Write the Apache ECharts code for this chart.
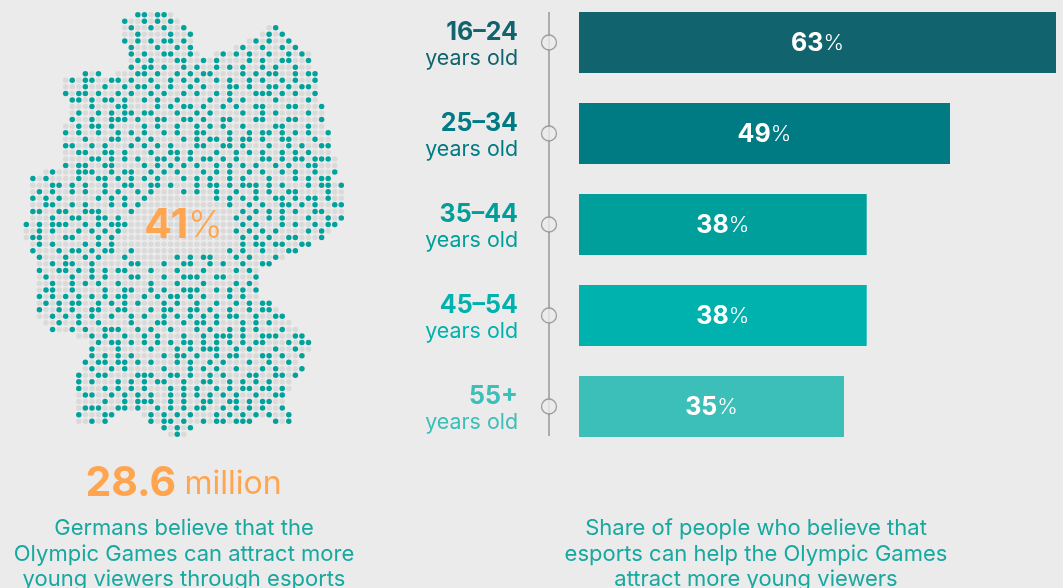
<!DOCTYPE html>
<html>
<head>
<meta charset="utf-8">
<style>html,body{margin:0;padding:0;background:#ebebeb}#chart{width:1063px;height:588px}</style>
<script src="https://cdn.jsdelivr.net/npm/echarts@6/dist/echarts.min.js"></script>
</head>
<body>
<div id="chart"></div>
<script>
const ageGroups = ['16–24','25–34','35–44','45–54','55+'];
const ageSuffix = 'years old';
const shares = [63,49,38,38,35];
const barColors = ['#11646e','#007b84','#009f9c','#00b2ae','#3cbeb9'];
const mapRowSpans = [
[[17,22]],[[15,23]],[[15,24],[37,38]],[[15,25],[36,39]],[[15,25],[34,40]],[[16,25],[32,41]],[[16,26],[29,43]],[[16,43]],[[16,43]],
[[9,11],[14,44]],[[6,44]],[[6,44]],[[6,44]],[[7,44]],[[7,45]],[[7,45]],[[7,45]],[[6,45]],[[6,46]],[[6,46]],[[6,46]],[[6,46]],
[[6,47]],[[6,47]],[[3,47]],[[1,46]],[[1,48]],[[1,48]],[[1,48]],[[1,48]],[[1,48]],[[1,48]],[[0,47]],[[0,46]],[[0,45]],[[1,43]],[[1,41]],
[[2,39]],[[2,37]],[[2,35]],[[2,35]],[[2,35]],[[2,35]],[[2,35]],[[2,37]],[[2,38]],[[2,39]],[[3,40]],[[4,41]],[[8,42]],[[10,43]],[[10,43]],
[[10,42]],[[9,41]],[[9,42]],[[8,41]],[[8,40]],[[8,40]],[[8,39]],[[8,39]],[[8,39]],[[8,13],[18,40]],[[8,12],[19,34],[38,40]],[[21,25]],[[22,24]]
];
const mapTealCols = [
[17,18,20,21],
[15,18,20,22],
[16,19,21,24,38],
[17,22,25,37,39],
[15,17,19,21,22,24,35,37,40],
[16,20,23,25,33,36,39,41],
[16,18,21,22,25,30,32,34,37,40,42],
[17,19,23,24,27,29,34,36,39,40,43],
[16,18,19,21,24,26,29,31,33,36,38,41],
[9,11,17,18,20,23,25,27,28,33,35,37,38,41,43,44],
[7,9,10,13,14,16,19,22,24,26,29,31,34,36,39,41,44],
[9,12,15,17,18,20,22,25,27,31,32,34,37,38,40,42,43],
[6,8,9,11,14,16,19,21,24,26,29,31,35,36,37,39,41,44],
[7,8,10,12,13,15,18,20,23,28,31,33,38,43],
[10,14,15,20,22,24,25,27,30,32,35,36,40,41,45],
[8,11,13,15,16,18,19,23,26,28,33,36,38,43],
[7,10,13,14,15,17,20,21,24,25,27,30,31,35,36,40,41,45],
[8,10,11,13,18,20,23,26,28,30,33,38,39,43],
[6,8,11,14,16,18,21,23,26,27,31,34,36,37,39,41,43,46],
[9,13,14,17,19,24,26,28,29,31,33,34,36,39,40,44],
[6,7,10,12,16,18,20,22,26,27,30,31,33,37,40,42,45,46],
[8,9,12,13,15,19,22,23,25,29,32,34,36,39,41,43],
[10,11,13,15,17,20,21,23,25,27,28,30,32,36,37,39,41,42,44,45,46],
[6,8,9,12,13,18,20,22,24,26,29,31,33,35,38,40,43,44],
[4,8,9,10,13,15,16,19,21,23,27,29,31,34,36,39,41,44,47],
[1,3,8,11,12,14,16,18,20,24,26,28,31,33,37,41,43,45,46],
[4,5,7,9,12,15,16,19,20,22,26,28,29,31,33,34,35,37,39,43,45,46,48],
[2,4,7,9,12,14,17,19,24,26,29,32,35,37,40,41,46],
[1,3,5,11,13,15,18,29,31,33,35,38,39,41,43,44,46],
[3,4,7,9,13,15,17,31,34,36,39,40,42,44,47,48],
[1,2,5,6,9,10,11,16,33,35,37,39,41,44,45],
[4,7,8,11,12,14,32,34,37,39,43,46,48],
[0,2,4,5,6,9,11,13,14,15,33,35,39,41,44,46,47],
[2,4,8,10,12,14,32,34,36,38,43,45],
[1,2,6,7,11,13,33,35,37,40,41,45],
[2,4,9,11,13,33,35,36,38,39,42,43],
[1,5,7,8,10,12,13,16,31,33,36,40,41],
[2,6,9,11,15,23,25,27,28,32,34,38],
[4,6,7,10,16,17,21,24,25,28,30,33,36,37],
[2,5,6,8,10,12,14,15,19,23,27,32,34],
[3,7,10,12,16,17,21,24,25,26,29,30,35],
[4,7,9,11,14,19,23,27,32,34],
[3,4,7,12,15,16,19,21,24,25,26,29,31,33,35],
[2,4,6,8,10,12,14,15,18,20,22,23,25,27,31,33],
[3,5,7,8,11,13,15,17,21,23,26,29,32,34,36,37],
[2,5,7,10,11,14,15,19,21,22,25,26,28,31,34,36,37],
[4,6,8,10,13,16,18,21,23,25,27,29,31,32,35,38,39],
[5,8,11,16,20,21,24,26,27,29,33,35,37],
[4,7,9,12,13,14,17,19,22,26,28,31,33,35,39],
[10,12,15,18,20,24,27,29,30,31,33,36,37,38,41,42],
[11,13,14,16,18,20,22,24,25,27,29,31,33,35,36,40,42,43],
[10,14,19,23,25,27,28,29,32,34,38,41],
[10,12,14,16,21,23,24,26,29,31,32,36,37,39,42],
[9,11,12,14,15,17,19,23,25,28,30,34,37,40],
[10,13,15,21,25,27,29,32,36,38,42],
[8,11,12,17,18,19,22,23,25,28,30,34,35,38,39,41],
[8,10,14,16,18,20,21,24,27,28,31,33,35,37],
[8,12,14,16,18,22,24,26,29,31,33,34,36,37,39],
[9,10,13,15,17,19,22,24,26,28,30,32,35,38,39],
[12,15,17,18,19,22,24,27,28,31,32,34,36,37],
[9,10,11,14,15,17,20,22,24,26,27,30,32,34,36,39],
[8,12,13,19,21,23,25,29,31,33,35,37,40],
[10,12,19,21,22,24,27,29,30,32,33,34,38,40],
[21,23,25],
[23]
];
const mapShareBig = '41', pctSign = '%';
const millionsBig = '28.6', millionsUnit = 'million';
const leftCaption = ['Germans believe that the','Olympic Games can attract more','young viewers through esports'];
const rightCaption = ['Share of people who believe that','esports can help the Olympic Games','attract more young viewers'];

const FONT = 'Inter';
const tealDots = [], greyDots = [];
mapRowSpans.forEach((spans, r) => {
  const teal = new Set(mapTealCols[r]);
  spans.forEach(([a, b]) => {
    for (let c = a; c <= b; c++) (teal.has(c) ? tealDots : greyDots).push([c, r]);
  });
});
const rich = {};
barColors.forEach((col, i) => {
  rich['a' + i] = {fontFamily: FONT, fontSize: 25, fontWeight: 700, color: col, lineHeight: 26, align: 'right'};
  rich['b' + i] = {fontFamily: FONT, fontSize: 21.4, fontWeight: 400, color: col, lineHeight: 26, align: 'right'};
});
const capStyle = {fontFamily: FONT, fontSize: 22, fontWeight: 400, fill: '#17a8a0', textAlign: 'center', textVerticalAlign: 'middle'};
const capY = [528, 554, 579];
const texts = [];
leftCaption.forEach((t, i) => texts.push({type: 'text', x: 184, y: capY[i], z: 5, style: {...capStyle, text: t}}));
rightCaption.forEach((t, i) => texts.push({type: 'text', x: 756, y: capY[i], z: 5, style: {...capStyle, text: t}}));

const chart = echarts.init(document.getElementById('chart'), null, {renderer: 'canvas'});
chart.setOption({
  backgroundColor: '#ebebeb',
  animation: false,
  grid: [
    {left: 579, width: 477, top: -3, height: 455, outerBoundsMode: 'none'},
    {left: 549, width: 1, top: -3, height: 455, outerBoundsMode: 'none'},
    {left: 26.3, width: 315, top: 14.7, height: 419.6, outerBoundsMode: 'none'}
  ],
  xAxis: [
    {gridIndex: 0, type: 'value', min: 0, max: 63, show: false},
    {gridIndex: 1, type: 'value', min: 0, max: 1, show: false},
    {gridIndex: 2, type: 'value', min: 0, max: 48, show: false}
  ],
  yAxis: [
    {gridIndex: 0, type: 'category', inverse: true, data: ageGroups,
     axisLine: {show: false}, axisTick: {show: false},
     axisLabel: {margin: 61, align: 'right', rich, padding: [6, 0, 0, 0],
       formatter: (v, i) => `{a${i}|${v}}\n{b${i}|${ageSuffix}}`}},
    {gridIndex: 1, type: 'category', inverse: true, data: ageGroups, show: false},
    {gridIndex: 2, type: 'value', inverse: true, min: 0, max: 64, show: false}
  ],
  series: [
    {type: 'bar', xAxisIndex: 0, yAxisIndex: 0, barWidth: 61, silent: true,
     data: shares.map((v, i) => ({value: v, itemStyle: {color: barColors[i]}})),
     label: {show: true, position: 'inside', offset: [0, 1], formatter: p => `{n|${p.value}}{p|${pctSign}}`,
       rich: {n: {fontFamily: FONT, fontSize: 25, fontWeight: 700, color: '#fff'},
              p: {fontFamily: FONT, fontSize: 22, fontWeight: 300, color: '#fff'}}}},
    {type: 'scatter', xAxisIndex: 1, yAxisIndex: 1, silent: true, z: 4, symbolSize: 15,
     data: ageGroups.map(a => [0, a]),
     itemStyle: {color: '#ebebeb', borderColor: '#8b8b8b', borderWidth: 1.3}},
    {type: 'scatter', xAxisIndex: 2, yAxisIndex: 2, silent: true, clip: false, z: 1, symbolSize: 5.5,
     data: greyDots, itemStyle: {color: '#dadada', opacity: 1}},
    {type: 'scatter', xAxisIndex: 2, yAxisIndex: 2, silent: true, clip: false, z: 2, symbolSize: 5.5,
     data: tealDots, itemStyle: {color: '#00a29b', opacity: 1}}
  ],
  graphic: [
    {type: 'rect', z: 0, shape: {x: 548.2, y: 12, width: 1.6, height: 424}, style: {fill: '#9e9e9e'}},
    {type: 'text', x: 183.5, y: 225.5, z: 5, style: {
      text: `{n|${mapShareBig}}{p|${pctSign}}`, textAlign: 'center', textVerticalAlign: 'middle',
      rich: {n: {fontFamily: FONT, fontSize: 41, fontWeight: 700, fill: '#ffa550'},
             p: {fontFamily: FONT, fontSize: 37, fontWeight: 300, fill: '#ffa550'}}}},
    {type: 'text', x: 183.5, y: 484, z: 5, style: {
      text: `{n|${millionsBig}} {u|${millionsUnit}}`, textAlign: 'center', textVerticalAlign: 'middle',
      rich: {n: {fontFamily: FONT, fontSize: 41, fontWeight: 700, fill: '#ffa550'},
             u: {fontFamily: FONT, fontSize: 32, fontWeight: 400, fill: '#ffa550', padding: [0, 0, 0, 5]}}}},
    ...texts
  ]
});
</script>
</body>
</html>
